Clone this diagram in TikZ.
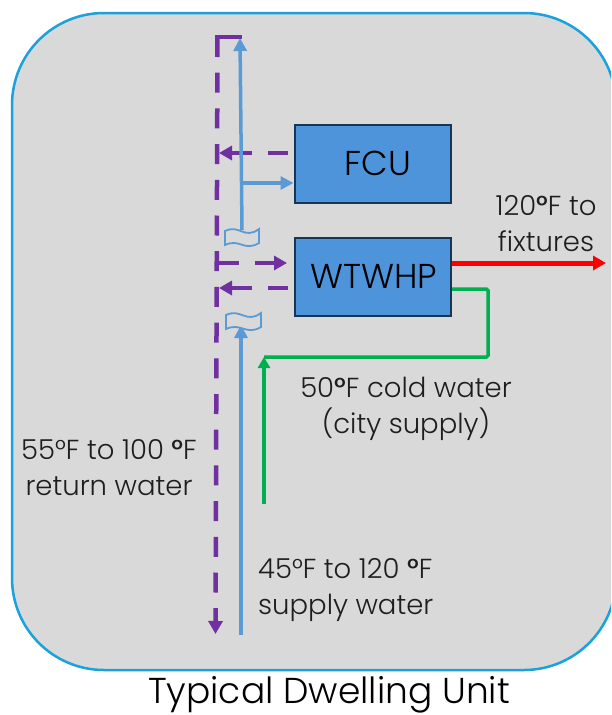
\documentclass[tikz,border=0pt]{standalone}
\usepackage{fontspec}
\setmainfont{Poppins-Light}[BoldFont=Poppins-Medium]
\usetikzlibrary{arrows.meta}
\definecolor{panelfill}{RGB}{217,217,217}
\definecolor{panelline}{RGB}{27,161,219}
\definecolor{boxfill}{RGB}{78,148,219}
\definecolor{boxline}{RGB}{22,54,84}
\definecolor{bluepipe}{RGB}{91,155,213}
\definecolor{purplepipe}{RGB}{112,48,160}
\definecolor{greenpipe}{RGB}{0,176,80}
\definecolor{txt}{RGB}{30,30,30}
\tikzset{
  x=1pt,y=-1pt,
  unitbox/.style={draw=boxline,fill=boxfill,line width=2.5pt,minimum width=156pt,minimum height=78pt,inner sep=0pt,anchor=north west,font=\fontsize{34.5}{34.5}\selectfont,text=black},
  label/.style={align=center,font=\fontsize{27.5}{36}\selectfont,text=txt,inner sep=0pt},
  purpledash/.style={draw=purplepipe,line width=4.5pt,dash pattern=on 20pt off 15.7pt},
  purpletip/.style={-{Triangle[length=13pt,width=14pt]}},
  bluepipeline/.style={draw=bluepipe,line width=3.5pt},
  bluetip/.style={-{Triangle[length=13pt,width=13pt]}},
  breakmark/.style={draw=bluepipe,line width=1.8pt,fill=panelfill},
  greenpipeline/.style={draw=greenpipe,line width=3.5pt},
}
\begin{document}
\begin{tikzpicture}
\useasboundingbox (0,0) rectangle (611,715);
\fill[white] (0,0) rectangle (611,715);
\begin{scope}
\clip (0,0) rectangle (611,715);
\draw[fill=panelfill,draw=panelline,line width=2.5pt,rounded corners=92pt] (12,13) rectangle (616,670);
\end{scope}

\node[unitbox] (fcu) at (293.5,123.5) {\hspace{10pt}FCU};
\node[unitbox] (hp) at (293.5,236.5) {\hspace{2pt}WTWHP};

\coordinate (ptop) at (240,37);
\coordinate (pcorner) at (217.5,37);
\coordinate (pend) at (215.5,634);
\coordinate (bsup) at (241,635);
\coordinate (bsuptop) at (241,325);
\coordinate (bupper) at (242,230);
\coordinate (buppertop) at (240,38);
\coordinate (bbranch) at (242,183);
\coordinate (p1) at (288,153);
\coordinate (p1e) at (219,153);
\coordinate (p2) at (219,263);
\coordinate (p2e) at (287,263);
\coordinate (p3) at (288,288);
\coordinate (p3e) at (219,288);
\coordinate (redend) at (606,263);
\coordinate (g1) at (488,289);
\coordinate (g2) at (488,357);
\coordinate (g3) at (264,357);
\coordinate (g4) at (264,504);

% return riser
\draw[purplepipe,line width=4.5pt,line cap=rect] (ptop) -- (pcorner);
\draw[purpledash,purpletip] (pcorner) -- (pend);
\draw[purpledash,purpletip] (p1) -- (p1e);
\draw[purpledash,purpletip] (p2) -- (p2e);
\draw[purpledash,purpletip] (p3) -- (p3e);

% supply riser
\draw[bluepipeline,bluetip] (bupper) -- (buppertop);
\draw[bluepipeline,bluetip] (bbranch) -- (fcu.west |- bbranch);
\draw[bluepipeline,bluetip] (bsup) -- (bsuptop);
\draw[breakmark] (225,231) .. controls (240,224) and (244,240) .. (259,229) -- (259,243) .. controls (244,252) and (240,238) .. (225,245) -- cycle;
\draw[breakmark] (226,315) .. controls (241,308) and (246,324) .. (261,313) -- (261,327) .. controls (246,336) and (241,322) .. (226,329) -- cycle;

% hot and cold water
\draw[red,line width=5pt,-{Triangle[length=13pt,width=14pt]}] (hp.east |- redend) -- (redend);
\draw[greenpipeline,rounded corners=1.5pt] (hp.east |- g1) -- (g1) -- (g2) -- (g3);
\draw[greenpipeline,-{Triangle[length=11pt,width=12pt]}] (g4) -- (g3);

\node[label] (t1) at (546,223.5) {120\textbf{°}F to\\fixtures};
\node[label] (t2) at (406,409) {50\textbf{°}F cold water\\(city supply)};
\node[label] (t3) at (109,468) {55°F to 100 \textbf{°}F\\return water};
\node[label,align=left,anchor=west] (t4) at (258,590) {45°F to 120 \textbf{°}F\\supply water};
\node[label,font=\fontsize{36}{36}\selectfont,text=black] (t5) at (329,695) {Typical Dwelling Unit};
\end{tikzpicture}
\end{document}
